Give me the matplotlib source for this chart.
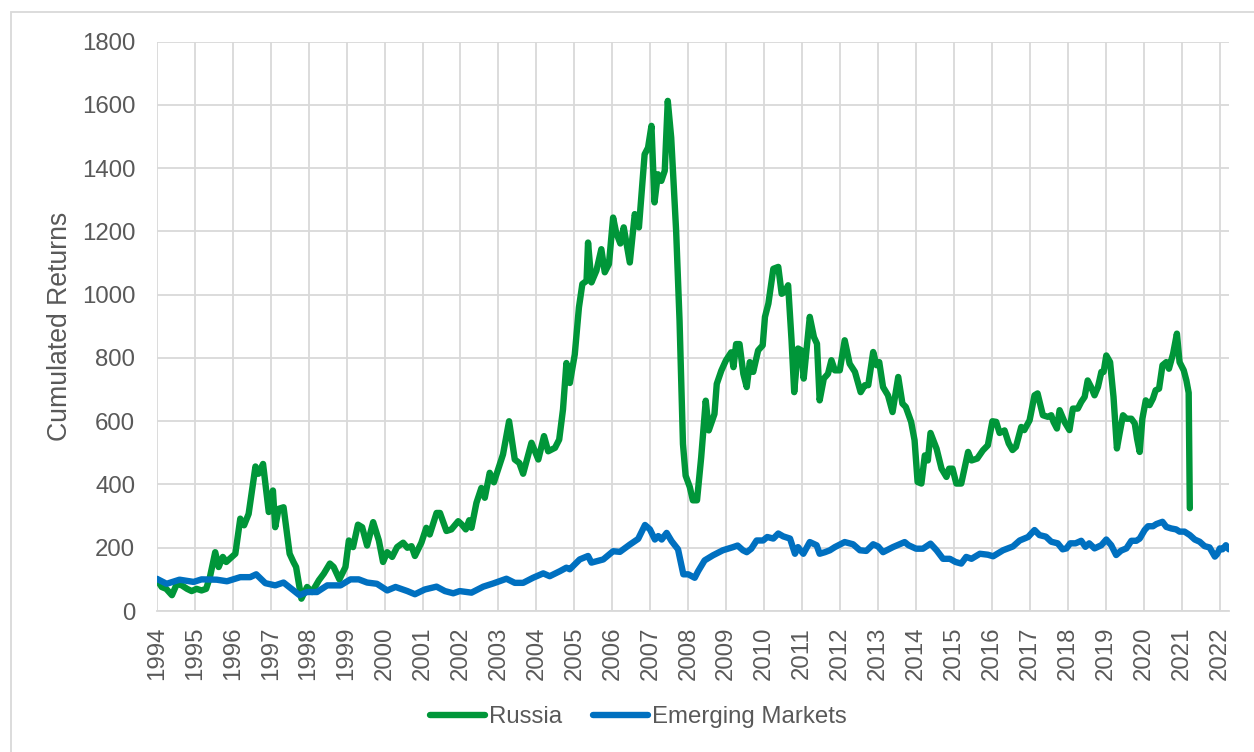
import matplotlib
matplotlib.use('Agg')
import matplotlib.pyplot as plt
from matplotlib.patches import Rectangle

# Russia - valores (ano fracionario, retorno acumulado)
russia_t = [1994.00, 1994.13, 1994.25, 1994.40, 1994.53, 1994.66, 1994.80, 1994.92, 1995.05, 1995.18,
            1995.30, 1995.40, 1995.54, 1995.63, 1995.74, 1995.83, 1996.07, 1996.20, 1996.30, 1996.42,
            1996.60, 1996.68, 1996.80, 1996.95, 1997.06, 1997.12, 1997.21, 1997.34, 1997.50, 1997.60,
            1997.67, 1997.81, 1997.96, 1998.09, 1998.27, 1998.40, 1998.56, 1998.66, 1998.81, 1998.97,
            1999.06, 1999.17, 1999.30, 1999.41, 1999.54, 1999.70, 1999.85, 1999.96, 2000.07, 2000.20,
            2000.33, 2000.49, 2000.60, 2000.71, 2000.80, 2000.97, 2001.10, 2001.19, 2001.37, 2001.46,
            2001.63, 2001.76, 2001.94, 2002.03, 2002.14, 2002.23, 2002.29, 2002.42, 2002.55, 2002.64,
            2002.77, 2002.88, 2003.12, 2003.28, 2003.43, 2003.55, 2003.65, 2003.87, 2004.05, 2004.20,
            2004.31, 2004.49, 2004.60, 2004.70, 2004.79, 2004.88, 2005.01, 2005.12, 2005.21, 2005.32,
            2005.36, 2005.45, 2005.58, 2005.71, 2005.80, 2005.91, 2006.02, 2006.10, 2006.21, 2006.30,
            2006.46, 2006.59, 2006.70, 2006.85, 2006.94, 2007.03, 2007.11, 2007.20, 2007.29, 2007.38,
            2007.46, 2007.55, 2007.68, 2007.77, 2007.86, 2007.93, 2008.04, 2008.12, 2008.23, 2008.34,
            2008.46, 2008.54, 2008.69, 2008.75, 2008.87, 2008.99, 2009.13, 2009.19, 2009.26, 2009.35,
            2009.45, 2009.54, 2009.62, 2009.71, 2009.84, 2009.96, 2010.02, 2010.11, 2010.24, 2010.37,
            2010.46, 2010.54, 2010.63, 2010.72, 2010.79, 2010.89, 2010.98, 2011.04, 2011.20, 2011.31,
            2011.39, 2011.46, 2011.57, 2011.68, 2011.77, 2011.86, 2011.99, 2012.12, 2012.25, 2012.39,
            2012.54, 2012.65, 2012.74, 2012.87, 2012.96, 2013.03, 2013.13, 2013.26, 2013.38, 2013.53,
            2013.64, 2013.73, 2013.87, 2013.96, 2014.04, 2014.14, 2014.23, 2014.31, 2014.38, 2014.54,
            2014.67, 2014.80, 2014.87, 2014.96, 2015.06, 2015.19, 2015.37, 2015.46, 2015.61, 2015.76,
            2015.89, 2016.01, 2016.11, 2016.20, 2016.33, 2016.44, 2016.54, 2016.63, 2016.77, 2016.85,
            2016.99, 2017.12, 2017.20, 2017.34, 2017.47, 2017.56, 2017.62, 2017.71, 2017.78, 2017.91,
            2018.04, 2018.13, 2018.26, 2018.35, 2018.44, 2018.52, 2018.61, 2018.70, 2018.79, 2018.88,
            2018.94, 2019.01, 2019.11, 2019.20, 2019.29, 2019.36, 2019.45, 2019.54, 2019.67, 2019.76,
            2019.82, 2019.89, 2019.96, 2020.05, 2020.15, 2020.24, 2020.31, 2020.40, 2020.49, 2020.59,
            2020.66, 2020.77, 2020.87, 2020.94, 2021.05, 2021.12, 2021.18, 2021.21]
russia_v = [100, 76, 70, 50, 86, 81, 70, 63, 70, 65,
            70, 107, 186, 139, 171, 155, 181, 292, 271, 307,
            457, 434, 465, 313, 381, 265, 323, 328, 181, 155,
            139, 39, 76, 60, 97, 118, 150, 139, 100, 139,
            223, 202, 273, 265, 207, 281, 223, 155, 186, 171,
            202, 216, 200, 205, 174, 216, 263, 242, 310, 310,
            253, 258, 284, 274, 258, 287, 263, 342, 389, 358,
            437, 407, 495, 600, 479, 468, 434, 532, 479, 553,
            505, 516, 542, 637, 784, 721, 811, 960, 1034, 1044,
            1165, 1039, 1076, 1144, 1071, 1097, 1244, 1197, 1162, 1213,
            1102, 1255, 1213, 1444, 1465, 1534, 1292, 1381, 1360, 1392,
            1613, 1497, 1202, 918, 528, 428, 392, 350, 350, 486,
            665, 571, 623, 718, 760, 792, 818, 771, 844, 844,
            750, 708, 787, 756, 824, 840, 930, 972, 1082, 1088,
            1003, 1009, 1030, 856, 692, 830, 824, 735, 930, 866,
            845, 666, 735, 750, 793, 761, 761, 856, 782, 756,
            692, 714, 714, 819, 777, 787, 708, 682, 629, 740,
            656, 645, 598, 540, 408, 403, 492, 476, 563, 513,
            450, 424, 450, 450, 403, 403, 503, 476, 482, 508,
            524, 600, 598, 563, 571, 530, 509, 519, 582, 572,
            603, 682, 688, 619, 614, 619, 598, 577, 635, 598,
            572, 640, 640, 661, 677, 729, 708, 682, 708, 756,
            756, 808, 787, 677, 514, 561, 619, 608, 608, 593,
            545, 503, 608, 666, 651, 672, 698, 703, 777, 787,
            766, 814, 877, 787, 761, 729, 690, 325]

# Emerging Markets
em_t = [1994.00, 1994.26, 1994.60, 1994.97, 1995.18, 1995.58, 1995.85, 1996.20, 1996.46, 1996.62,
        1996.86, 1997.12, 1997.34, 1997.60, 1997.76, 1997.96, 1998.22, 1998.49, 1998.84, 1999.10,
        1999.32, 1999.54, 1999.80, 2000.07, 2000.29, 2000.60, 2000.80, 2001.06, 2001.37, 2001.59,
        2001.81, 2001.98, 2002.29, 2002.60, 2002.86, 2003.21, 2003.43, 2003.65, 2003.91, 2004.18,
        2004.35, 2004.62, 2004.79, 2004.88, 2005.14, 2005.36, 2005.45, 2005.76, 2006.02, 2006.20,
        2006.46, 2006.68, 2006.86, 2006.99, 2007.12, 2007.21, 2007.30, 2007.43, 2007.56, 2007.73,
        2007.87, 2008.00, 2008.17, 2008.26, 2008.43, 2008.65, 2008.91, 2009.18, 2009.30, 2009.44,
        2009.54, 2009.66, 2009.80, 2009.97, 2010.08, 2010.24, 2010.37, 2010.50, 2010.68, 2010.81,
        2010.89, 2011.03, 2011.20, 2011.38, 2011.46, 2011.60, 2011.73, 2011.86, 2012.12, 2012.34,
        2012.52, 2012.69, 2012.87, 2013.00, 2013.13, 2013.39, 2013.70, 2013.80, 2014.00, 2014.18,
        2014.38, 2014.54, 2014.71, 2014.89, 2015.04, 2015.19, 2015.32, 2015.46, 2015.68, 2015.89,
        2016.03, 2016.29, 2016.55, 2016.73, 2016.95, 2017.12, 2017.25, 2017.42, 2017.56, 2017.73,
        2017.86, 2017.96, 2018.06, 2018.20, 2018.35, 2018.46, 2018.56, 2018.70, 2018.88, 2019.01,
        2019.14, 2019.27, 2019.40, 2019.54, 2019.67, 2019.80, 2019.89, 2020.02, 2020.11, 2020.24,
        2020.33, 2020.49, 2020.59, 2020.72, 2020.85, 2020.94, 2021.07, 2021.21, 2021.34, 2021.47,
        2021.60, 2021.73, 2021.87, 2021.93, 2022.00, 2022.07, 2022.16, 2022.24]
em_v = [102, 86, 99, 92, 100, 99, 94, 107, 107, 116,
        88, 81, 90, 65, 50, 60, 60, 81, 81, 100,
        100, 90, 86, 65, 76, 63, 53, 68, 77, 63,
        56, 63, 58, 77, 87, 102, 89, 89, 105, 119,
        110, 126, 137, 132, 163, 174, 153, 163, 189, 187,
        210, 228, 272, 258, 226, 237, 226, 247, 221, 195,
        116, 116, 105, 126, 160, 176, 192, 202, 207, 192,
        186, 197, 223, 223, 234, 229, 245, 236, 229, 181,
        202, 181, 218, 208, 181, 186, 192, 202, 218, 211,
        192, 190, 211, 204, 186, 202, 218, 208, 197, 197,
        213, 192, 165, 165, 155, 150, 171, 165, 181, 178,
        173, 192, 204, 223, 234, 256, 240, 235, 219, 214,
        195, 198, 214, 214, 222, 203, 214, 198, 208, 226,
        208, 177, 191, 198, 222, 222, 229, 256, 268, 268,
        275, 282, 266, 261, 258, 251, 251, 240, 226, 219,
        205, 201, 172, 180, 198, 195, 208, 195]

anos = list(range(1994, 2023))
y_ticks = list(range(0, 2000, 200))

cinza = '#595959'
plt.rcParams['font.family'] = ['Liberation Sans', 'DejaVu Sans']

fig = plt.figure(figsize=(12.54, 7.52), dpi=100)
ax = fig.add_axes([0.125, 0.1875, 0.855, 0.757])

ax.plot(russia_t, russia_v, color='#009639', linewidth=4.6, label='Russia',
        solid_joinstyle='round', solid_capstyle='round')
ax.plot(em_t, em_v, color='#0070C0', linewidth=4.6, label='Emerging Markets',
        solid_joinstyle='round', solid_capstyle='round')

ax.set_xlim(1994, 2022.24)
ax.set_ylim(0, 1800)
ax.set_xticks(anos)
ax.set_xticklabels([str(a) for a in anos], rotation=90)
ax.set_yticks(y_ticks)

ax.grid(True, color='#D9D9D9', linewidth=1.3)
ax.set_axisbelow(True)
for s in ['top', 'right', 'left']:
    ax.spines[s].set_visible(False)
ax.spines['bottom'].set_color('#D9D9D9')
ax.spines['bottom'].set_linewidth(1.3)
ax.tick_params(axis='both', length=0, labelsize=17.3, labelcolor=cinza)
ax.tick_params(axis='y', pad=15.5)
ax.tick_params(axis='x', pad=11.5)

fig.text(60 / 1254, 0.5665, 'Cumulated Returns', rotation=90, ha='center', va='center',
         fontsize=19.2, color=cinza)

# legenda embaixo
leg = fig.legend(loc='center', bbox_to_anchor=(0.509, 0.0465), ncol=2, frameon=False,
                 fontsize=17.3, handlelength=2.3, handletextpad=0.15, columnspacing=1.3)
for t in leg.get_texts():
    t.set_color(cinza)

# borda do grafico
fig.patches.append(Rectangle((11 / 1254, -0.1), 1.2, 1.1 - 12 / 752, transform=fig.transFigure,
                             fill=False, edgecolor='#D9D9D9', linewidth=1.3))

fig.savefig('out.png', dpi=100)
